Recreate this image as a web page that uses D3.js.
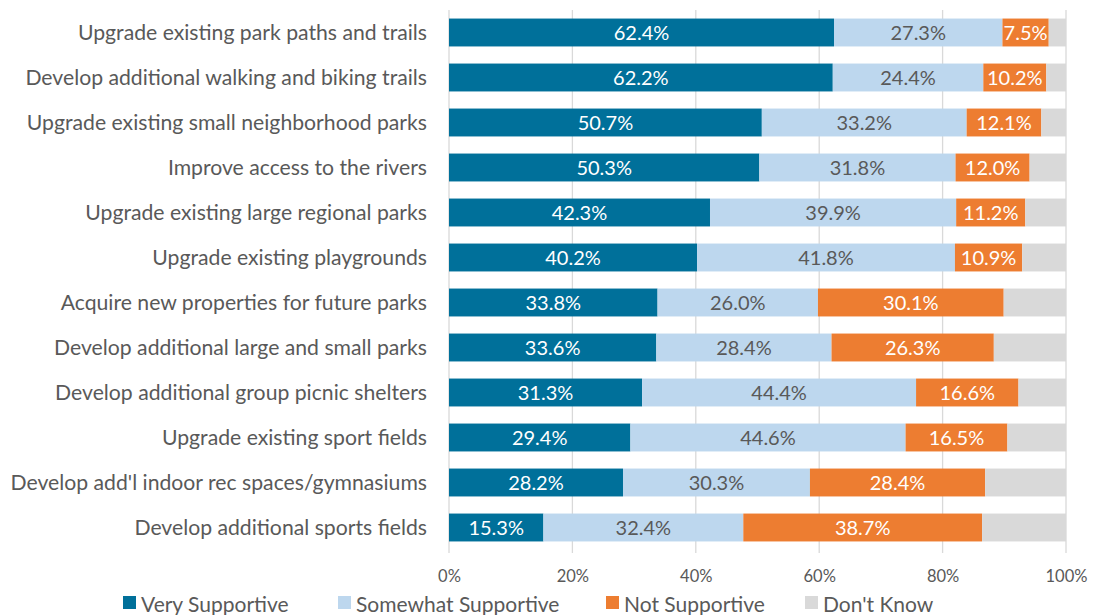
<!DOCTYPE html>
<html>
<head>
<meta charset="utf-8">
<script src="https://cdn.jsdelivr.net/npm/d3@7"></script>
<style>
  html, body { margin: 0; padding: 0; background: #fff; }
  svg { display: block; font-family: Lato, "Open Sans", sans-serif; }
</style>
</head>
<body>
<svg id="chart" width="1101" height="615"></svg>
<script>
// Survey responses: support for park and recreation improvements
const categories = [
  "Upgrade existing park paths and trails",
  "Develop additional walking and biking trails",
  "Upgrade existing small neighborhood parks",
  "Improve access to the rivers",
  "Upgrade existing large regional parks",
  "Upgrade existing playgrounds",
  "Acquire new properties for future parks",
  "Develop additional large and small parks",
  "Develop additional group picnic shelters",
  "Upgrade existing sport fields",
  "Develop add'l indoor rec spaces/gymnasiums",
  "Develop additional sports fields"
];
const verySupportive     = [62.4, 62.2, 50.7, 50.3, 42.3, 40.2, 33.8, 33.6, 31.3, 29.4, 28.2, 15.3];
const somewhatSupportive = [27.3, 24.4, 33.2, 31.8, 39.9, 41.8, 26.0, 28.4, 44.4, 44.6, 30.3, 32.4];
const notSupportive      = [7.5, 10.2, 12.1, 12.0, 11.2, 10.9, 30.1, 26.3, 16.6, 16.5, 28.4, 38.7];
const dontKnow           = [2.8, 3.2, 4.0, 5.9, 6.6, 7.1, 10.1, 11.7, 7.7, 9.5, 13.1, 13.6];
const seriesNames = ["Very Supportive", "Somewhat Supportive", "Not Supportive", "Don't Know"];
const tickValues = [0, 20, 40, 60, 80, 100];

const colors = ["#00709A", "#BDD7EE", "#ED7D31", "#D9D9D9"];
const labelColors = ["#ffffff", "#595959", "#ffffff", null];

const rows = categories.map((c, i) => ({
  category: c,
  "Very Supportive": verySupportive[i],
  "Somewhat Supportive": somewhatSupportive[i],
  "Not Supportive": notSupportive[i],
  "Don't Know": dontKnow[i]
}));

const svg = d3.select("#chart");
const margin = { left: 449, right: 35, top: 10, bottom: 65 };
const W = 1101, H = 615;

const x = d3.scaleLinear().domain([0, 100]).range([margin.left, W - margin.right]);
const y = d3.scaleBand().domain(categories).range([margin.top, H - margin.bottom]).paddingInner(0.38).paddingOuter(0.19);

// vertical gridlines
svg.append("g")
  .selectAll("line")
  .data(tickValues)
  .join("line")
  .attr("x1", d => x(d)).attr("x2", d => x(d))
  .attr("y1", margin.top).attr("y2", H - margin.bottom + 3)
  .attr("stroke", "#D9D9D9").attr("stroke-width", 1.3);

const stack = d3.stack().keys(seriesNames)(rows);

const layers = svg.append("g")
  .selectAll("g")
  .data(stack)
  .join("g")
  .attr("fill", (d, i) => colors[i]);

layers.selectAll("rect")
  .data(d => d)
  .join("rect")
  .attr("x", d => x(d[0]))
  .attr("width", d => x(d[1]) - x(d[0]))
  .attr("y", d => y(d.data.category))
  .attr("height", y.bandwidth());

// value labels (all but "Don't Know")
stack.forEach((layer, si) => {
  if (!labelColors[si]) return;
  svg.append("g")
    .selectAll("text")
    .data(layer)
    .join("text")
    .attr("x", d => (x(d[0]) + x(d[1])) / 2)
    .attr("y", d => y(d.data.category) + y.bandwidth() / 2)
    .attr("dy", "0.36em")
    .attr("text-anchor", "middle")
    .attr("fill", labelColors[si])
    .attr("font-size", 20)
    .text(d => (d[1] - d[0]).toFixed(1) + "%");
});

// category axis labels
svg.append("g")
  .selectAll("text")
  .data(categories)
  .join("text")
  .attr("x", margin.left - 22)
  .attr("y", d => y(d) + y.bandwidth() / 2)
  .attr("dy", "0.36em")
  .attr("text-anchor", "end")
  .attr("fill", "#595959")
  .attr("font-size", 21.2)
  .text(d => d);

// x axis
const xAxis = svg.append("g")
  .attr("transform", `translate(0,${H - margin.bottom})`)
  .call(d3.axisBottom(x).tickValues(tickValues).tickFormat(d => d + "%").tickSize(0).tickPadding(20));
xAxis.select(".domain").remove();
xAxis.selectAll("text").attr("fill", "#595959").attr("font-size", 16.5).attr("font-family", "Lato, 'Open Sans', sans-serif");

// legend
const legendX = [123, 338, 606, 805];
const legend = svg.append("g")
  .selectAll("g")
  .data(seriesNames)
  .join("g")
  .attr("transform", (d, i) => `translate(${legendX[i]},604)`);
legend.append("rect")
  .attr("x", 0).attr("y", -8).attr("width", 13).attr("height", 13)
  .attr("fill", (d, i) => colors[i]);
legend.append("text")
  .attr("x", 18).attr("y", 0).attr("dy", "0.36em")
  .attr("fill", "#595959").attr("font-size", 21)
  .text(d => d);
</script>
</body>
</html>
